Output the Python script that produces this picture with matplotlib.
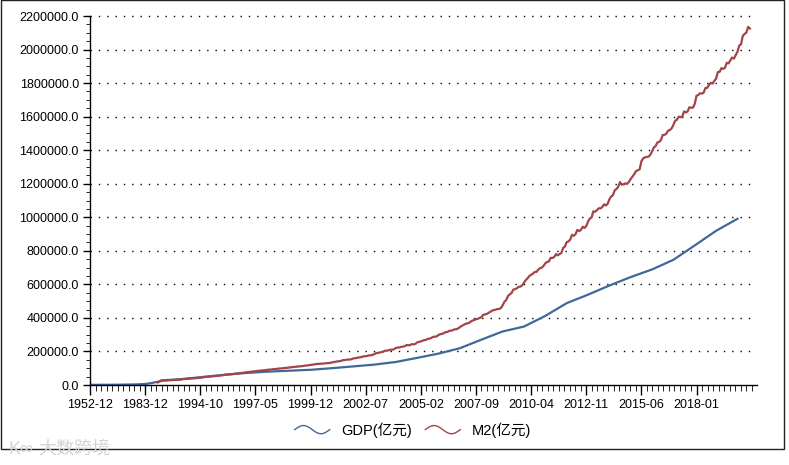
import numpy as np
import matplotlib
matplotlib.use("Agg")
import matplotlib.pyplot as plt
from matplotlib.ticker import FixedLocator, MultipleLocator, FuncFormatter
from matplotlib.legend_handler import HandlerBase
from matplotlib.lines import Line2D
from matplotlib.patches import Rectangle

plt.rcParams['font.family'] = ['Liberation Sans', 'Noto Sans CJK SC', 'DejaVu Sans']

# 类目: 1952-1992 年度, 1993-01 起月度
categories = [f"{y}-12" for y in range(1952, 1993)]
for y in range(1993, 2021):
    for m in range(1, 13):
        if y == 2020 and m > 7:
            break
        categories.append(f"{y}-{m:02d}")

tick_labels = ["1952-12", "1983-12", "1994-10", "1997-05", "1999-12", "2002-07",
               "2005-02", "2007-09", "2010-04", "2012-11", "2015-06", "2018-01"]

# GDP 年度 (亿元), 1952-2019
gdp_years = list(range(1952, 2020))
gdp = [679.1, 824.4, 859.8, 911.6, 1030.7, 1071.4, 1312.3, 1447.5, 1470.1, 1232.3,
       1162.2, 1248.3, 1469.9, 1734.0, 1888.7, 1794.2, 1744.1, 1962.2, 2279.7, 2456.9,
       2552.4, 2756.2, 2827.7, 3039.5, 2988.6, 3250.0, 3678.7, 4100.5, 4587.6, 4935.8,
       5373.4, 6020.9, 7278.5, 9098.9, 10376.2, 12174.6, 15180.4, 17179.7, 18872.9, 22005.6,
       27194.5, 35673.2, 48637.5, 61339.9, 71813.6, 79715.0, 85195.5, 90564.4, 100280.1, 110863.1,
       121717.4, 137422.0, 161840.2, 187318.9, 219438.5, 270092.3, 319244.6, 348517.7, 412119.3, 487940.2,
       538580.0, 592963.2, 643563.1, 688858.2, 746395.1, 832035.9, 919281.1, 990865.1]

# M2 (亿元): 1990-1992 年末, 之后月度
m2_annual = {"1990-12": 15293.4, "1991-12": 19349.9, "1992-12": 25402.2}
m2_monthly = {
    1993: [26000, 26500, 27200, 27600, 28100, 28900, 29300, 29800, 30600, 31200, 32100, 34880],
    1994: [35600, 36200, 37100, 37800, 38600, 39700, 40300, 41000, 42200, 42900, 44100, 46924],
    1995: [47900, 48800, 50100, 50900, 51800, 53300, 54000, 54900, 56700, 57400, 58600, 60751],
    1996: [61800, 62900, 64500, 65300, 66200, 68100, 68900, 69800, 71600, 72300, 73600, 76095],
    1997: [77200, 78100, 80200, 81100, 82000, 84000, 84700, 85600, 87200, 87800, 88900, 90995],
    1998: [91700, 92500, 94500, 95100, 95900, 97800, 98500, 99300, 101000, 101800, 102800, 104499],
    1999: [105800, 106900, 108400, 109200, 110400, 111900, 112800, 113500, 115900, 116300, 117700, 119898],
    2000: [121200, 122400, 124900, 125600, 126700, 126600, 127600, 128600, 130500, 130700, 131600, 134610],
    2001: [136300, 138100, 140600, 141500, 143100, 147800, 148400, 149900, 151800, 151600, 153800, 158302],
    2002: [159600, 161100, 164100, 165300, 167800, 170900, 171800, 173900, 176800, 177300, 179900, 185007],
    2003: [190500, 191000, 194500, 196100, 199500, 204900, 204600, 207900, 210500, 210400, 213900, 221223],
    2004: [223100, 223800, 227600, 229500, 231100, 238400, 236900, 238200, 243800, 241800, 245600, 254107],
    2005: [257700, 259300, 264600, 266900, 269600, 275800, 276000, 281300, 287400, 287600, 291000, 298756],
    2006: [303600, 304500, 310500, 315000, 316700, 322800, 324000, 327000, 331900, 332700, 337500, 345578],
    2007: [351500, 357400, 364100, 367300, 369700, 377800, 383900, 387200, 393100, 394200, 399800, 403442],
    2008: [417800, 421000, 423100, 429300, 436200, 443100, 446400, 448800, 452900, 453100, 458600, 475167],
    2009: [496100, 506700, 530600, 540500, 548300, 568900, 571400, 576700, 585400, 586600, 594600, 610225],
    2010: [625600, 636100, 649900, 656600, 663400, 673900, 674100, 687500, 696500, 699800, 710300, 725852],
    2011: [733900, 736100, 758100, 757400, 763400, 780800, 772900, 780900, 787400, 816800, 825500, 851591],
    2012: [855900, 867200, 895600, 889600, 900000, 924900, 917300, 924900, 943700, 936400, 947300, 974149],
    2013: [992100, 998600, 1035900, 1032600, 1042200, 1054000, 1052200, 1061300, 1077400, 1070200, 1079300, 1106525],
    2014: [1123500, 1131700, 1160700, 1168800, 1182300, 1209600, 1194100, 1197400, 1202100, 1199200, 1211100, 1228375],
    2015: [1242700, 1257400, 1275300, 1280100, 1285900, 1333400, 1350700, 1356900, 1359800, 1361000, 1372100, 1392278],
    2016: [1416400, 1424300, 1446200, 1449500, 1461100, 1490500, 1491600, 1497900, 1516400, 1519500, 1530400, 1550067],
    2017: [1575900, 1581900, 1599600, 1596300, 1601400, 1631300, 1624700, 1631300, 1655700, 1653400, 1653400, 1676769],
    2018: [1724500, 1729100, 1739300, 1737300, 1743100, 1770200, 1771900, 1788700, 1801700, 1797100, 1813300, 1826744],
    2019: [1865900, 1867400, 1889400, 1884700, 1891400, 1921400, 1917400, 1935500, 1952100, 1946000, 1965600, 1986489],
    2020: [2023100, 2030800, 2080900, 2093300, 2100600, 2134900, 2125500],
}

idx = {c: i for i, c in enumerate(categories)}
gdp_x = [idx[f"{y}-12"] for y in gdp_years]
m2_x, m2_y = [], []
for c, v in m2_annual.items():
    m2_x.append(idx[c]); m2_y.append(v)
for y, vals in m2_monthly.items():
    for m, v in enumerate(vals, start=1):
        m2_x.append(idx[f"{y}-{m:02d}"]); m2_y.append(v)

fig = plt.figure(figsize=(7.89, 4.65), dpi=100)
W, H = 789, 465
ax = fig.add_axes([90 / W, 1 - 385 / H, (757 - 90) / W, (385 - 16) / H])

c_gdp = "#3f6998"
c_m2 = "#a2444a"
ax.plot(gdp_x, gdp, color=c_gdp, lw=1.6, label="GDP(亿元)")
ax.plot(m2_x, m2_y, color=c_m2, lw=1.6, label="M2(亿元)")

ax.set_xlim(0, len(categories) - 1 + 4)
ax.set_ylim(0, 2200000)

ax.xaxis.set_major_locator(FixedLocator([idx[t] for t in tick_labels]))
ax.xaxis.set_major_formatter(FuncFormatter(lambda v, p: categories[int(round(v))]))
ax.xaxis.set_minor_locator(MultipleLocator(3.1))
ax.yaxis.set_major_locator(MultipleLocator(200000))
ax.yaxis.set_minor_locator(MultipleLocator(50000))
ax.yaxis.set_major_formatter(FuncFormatter(lambda v, p: f"{v:.1f}"))

ax.tick_params(axis='both', which='major', labelsize=9, colors='black', width=1)
ax.tick_params(axis='x', which='major', length=7, pad=3)
ax.tick_params(axis='x', which='minor', length=4)
ax.tick_params(axis='y', which='major', length=5, pad=3)
ax.tick_params(axis='y', which='minor', length=3)

for s in ['top', 'right']:
    ax.spines[s].set_visible(False)
for s in ['left', 'bottom']:
    ax.spines[s].set_linewidth(1)
    ax.spines[s].set_color('black')

for yv in range(200000, 2200001, 200000):
    ax.plot([0, len(categories) - 1 + 0.5], [yv, yv], color='black', lw=1,
            linestyle=(0, (1, 5)), zorder=0.5, clip_on=False)


class WaveHandler(HandlerBase):
    def create_artists(self, legend, orig_handle, xdescent, ydescent, width, height, fontsize, trans):
        t = np.linspace(0, 1, 50)
        xs = -xdescent + t * width
        ys = -ydescent + height / 2 + height * 0.4 * np.sin(2 * np.pi * t)
        ln = Line2D(xs, ys, color=orig_handle.get_color(), lw=1)
        ln.set_transform(trans)
        return [ln]


handles, labels = ax.get_legend_handles_labels()
fig.legend(handles, labels, loc='center', bbox_to_anchor=(413 / W, 1 - 430 / H), ncol=2,
           frameon=False, fontsize=10.5, handlelength=2.4, handletextpad=0.8, columnspacing=0.9,
           handler_map={Line2D: WaveHandler()})

# 水印
fig.text(38 / W, 1 - 449 / H, "大数跨境", fontsize=13, color='#d4d4d4', va='center', ha='left')
fig.text(8 / W, 1 - 449 / H, "K∞", fontsize=13, color='#d4d4d4', va='center', ha='left')

# 外框
fig.patches.append(Rectangle((0.5 / W, 1 - 449 / H), 783 / W, 448.5 / H, transform=fig.transFigure,
                             fill=False, edgecolor='#222222', lw=1))

fig.savefig("out.png", dpi=100)
